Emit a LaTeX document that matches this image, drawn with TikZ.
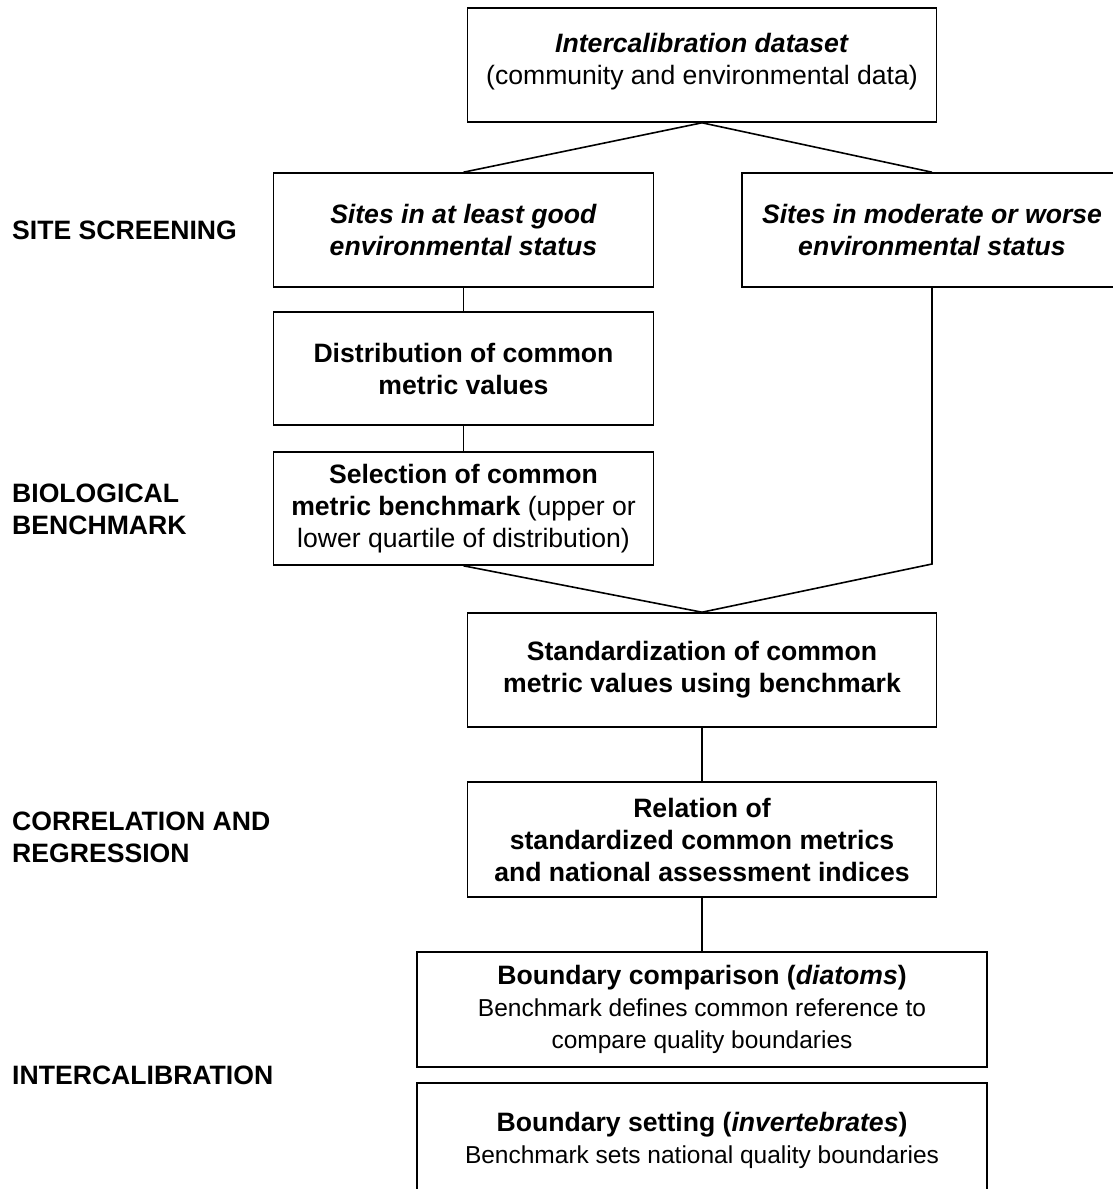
\documentclass[tikz,border=0pt]{standalone}
\usepackage{fontspec}
\setmainfont{Liberation Sans}
\usetikzlibrary{positioning}

\newcommand{\bigtxt}{\fontsize{26.6}{32}\selectfont}
\newcommand{\smtxt}{\fontsize{24.5}{29.5}\selectfont}

\tikzset{
    box/.style={draw, line width=1.6pt, align=center, inner sep=0pt, font=\bigtxt},
    wide/.style={box, minimum width=469pt, minimum height=114pt},
    narrow/.style={box, minimum width=380pt, minimum height=114pt},
    widest/.style={box, minimum width=570pt, minimum height=115pt},
    stage/.style={anchor=west, align=left, inner sep=0pt, font=\bigtxt\bfseries},
    link/.style={line width=1.6pt}
}

\begin{document}
\begin{tikzpicture}[x=1pt, y=-1pt]
    \useasboundingbox (0,0) rectangle (1113,1189);
    \clip (0,0) rectangle (1113,1189);

    \node[wide] (dataset) at (702,65) {\textbf{\textit{Intercalibration dataset}}\\(community and environmental data)\\[-20pt]\mbox{}};
    \node[narrow] (good) at (463.5,230) {\textbf{\textit{Sites in at least good}}\\\textbf{\textit{environmental status}}};
    \node[narrow] (worse) at (932,230) {\textbf{\textit{Sites in moderate or worse}}\\\textbf{\textit{environmental status}}};
    \node[narrow, minimum height=113pt] (distrib) at (463.5,368.5) {\textbf{Distribution of common}\\\textbf{metric values}};
    \node[narrow, minimum height=113pt] (bench) at (463.5,508.5) {\textbf{Selection of common}\\\textbf{metric benchmark} (upper or\\lower quartile of distribution)};
    \node[wide] (stand) at (702,670) {\textbf{Standardization of common}\\\textbf{metric values using benchmark}};
    \node[wide, minimum height=115pt] (relat) at (702,839.5) {\textbf{Relation of}\\\textbf{standardized common metrics}\\\textbf{and national assessment indices}};
    \node[widest] (compar) at (702,1009.5) {\textbf{Boundary comparison (\textit{diatoms})}\\{\smtxt Benchmark defines common reference to}\\{\smtxt compare quality boundaries}};
    \node[widest] (setting) at (702,1140.5) {\textbf{Boundary setting (\textit{invertebrates})}\\{\smtxt Benchmark sets national quality boundaries}};

    \coordinate (kink) at (932,564);

    \draw[link] (good.north) -- (dataset.south) -- (worse.north);
    \draw[link] (good) -- (distrib) -- (bench);
    \draw[link] (bench.south) -- (stand.north) -- (kink) -- (worse.south);
    \draw[link] (stand) -- (relat) -- (compar);

    % stage labels
    \node[stage] (screen) at (12,230) {SITE SCREENING};
    \node[stage] (biobench) at (12,509) {BIOLOGICAL\\BENCHMARK};
    \node[stage] (correg) at (12,837) {CORRELATION AND\\REGRESSION};
    \node[stage] (intercal) at (12,1075) {INTERCALIBRATION};
\end{tikzpicture}
\end{document}
